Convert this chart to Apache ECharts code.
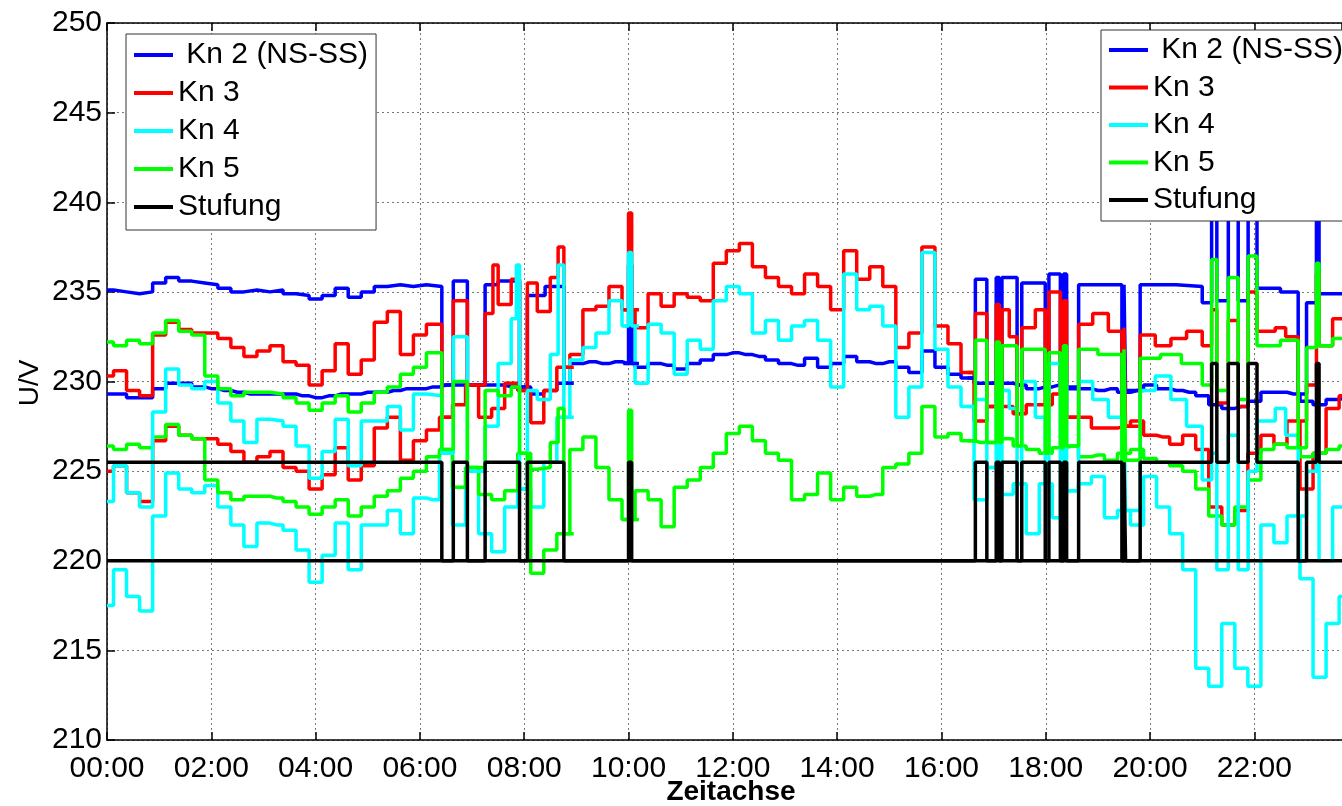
<!DOCTYPE html>
<html>
<head>
<meta charset="utf-8">
<script src="https://cdn.jsdelivr.net/npm/echarts@6/dist/echarts.min.js"></script>
<style>html,body{margin:0;padding:0;background:#fff}#c{width:1342px;height:806px}</style>
</head>
<body>
<div id="c"></div>
<script>
// ---------- data ----------
// sampling grid of scenario A, hours (0 .. 23.75 every 15 min)
const hours = Array.from({length: 96}, (_, i) => i * 0.25);
const xTicks = ['00:00','02:00','04:00','06:00','08:00','10:00','12:00','14:00','16:00','18:00','20:00','22:00'];
const yTicks = [210, 215, 220, 225, 230, 235, 240, 245, 250];
const names = ['Kn 2 (NS-SS)', 'Kn 3', 'Kn 4', 'Kn 5', 'Stufung'];

// scenario A (lower set, Stufung fixed)
const kn2A = [229.3,229.3,229.1,229.1,229.6,229.9,229.9,229.7,229.6,229.5,229.4,229.3,229.3,229.3,229.3,229.2,229.1,229.2,229.3,229.3,229.4,229.4,229.5,229.6,229.6,
  229.7,229.8,229.8,229.8,229.8,229.8,229.7,229.7,229.3,229.5,229.9,231.0,231.1,231.0,231.1,231.0,230.8,231.0,230.9,230.7,231.0,231.2,231.5,231.6,
  231.5,231.4,231.2,231.0,230.9,231.3,230.8,231.0,231.4,231.1,231.0,231.1,230.8,230.5,231.7,230.8,230.4,230.2,229.9,229.9,229.9,229.8,229.6,229.7,
  229.8,229.6,229.6,229.5,229.6,229.4,229.5,229.8,229.6,229.5,229.4,229.2,228.7,228.5,228.6,228.9,229.4,229.4,229.3,228.9,228.7,229.0,229.1];
const kn3A = [225.0,225.3,223.8,223.3,226.7,227.5,227.0,226.8,226.8,226.5,226.1,225.5,225.8,226.1,225.2,225.0,224.0,224.8,226.3,224.5,225.3,227.4,228.0,225.6,226.7,
  227.3,228.0,228.7,229.8,228.0,228.5,229.9,229.5,227.7,229.5,230.8,231.5,234.0,234.2,235.3,234.0,233.0,234.9,234.2,234.9,234.7,234.5,236.6,237.3,
  237.7,236.4,235.8,235.3,234.9,236.0,235.3,234.0,237.3,235.7,236.4,235.3,231.9,232.7,237.5,233.1,232.1,230.5,227.8,228.6,228.6,228.2,228.7,228.7,
  229.3,228.0,228.0,227.4,227.4,227.5,227.8,227.0,226.9,226.5,227.0,226.2,223.0,222.0,222.8,226.0,227.0,226.5,227.8,224.0,226.0,228.5,229.2];
const kn4A = [217.5,219.5,218.0,217.2,222.5,224.9,224.0,223.8,224.2,223.0,222.0,220.8,222.1,222.0,221.7,220.6,218.8,220.3,222.1,219.5,222.0,222.0,222.8,221.5,223.5,
  223.4,226.0,222.0,225.0,221.5,220.5,223.0,224.0,223.0,225.5,228.0,231.2,231.9,232.7,234.5,233.1,229.9,233.2,232.7,230.4,232.3,231.8,234.5,235.3,
  234.9,232.7,233.4,232.3,233.1,233.4,232.3,229.7,236.0,234.0,234.2,233.1,228.0,229.7,237.2,231.8,229.7,228.6,223.4,225.2,223.7,224.3,221.5,224.3,
  222.4,223.9,224.3,224.7,222.4,222.8,222.0,224.7,223.0,221.5,219.5,214.0,213.0,216.5,214.0,213.0,222.0,221.0,222.5,219.0,213.5,216.5,218.0];
const kn5A = [226.4,226.2,226.5,226.3,226.9,227.6,227.0,226.8,224.5,223.8,223.4,223.6,223.6,223.5,223.3,223.0,222.6,223.0,223.4,222.5,223.0,223.6,223.9,224.6,225.0,
  225.8,226.2,224.1,225.2,223.7,223.4,223.9,226.0,219.3,220.6,221.5,226.2,226.9,225.2,223.4,222.3,223.9,223.4,221.9,224.1,224.5,225.2,226.0,227.1,
  227.5,226.7,226.0,225.6,223.4,223.7,224.9,223.4,224.1,223.6,223.7,225.2,225.4,226.0,228.6,226.9,227.1,226.7,226.6,226.6,226.8,226.4,226.2,226.0,
  226.3,226.4,225.8,225.9,225.6,226.0,226.2,225.7,225.5,225.3,225.0,224.0,222.5,222.0,223.0,224.5,226.2,226.5,226.3,225.8,226.0,226.2,226.4];
const stufA = [[0, 220], [23.7, 220]];

// scenario B (switched set): [start hour, value held until next point]; null = gap (same as A)
const kn2B = [[0,235.1],[0.125,235.0],[0.375,234.9],[0.625,235.0],[0.875,235.5],[1.125,235.8],[1.375,235.6],[1.625,235.5],[1.875,235.4],[2.125,235.2],[2.375,235.0],[2.625,235.1],[2.875,235.0],[3.125,235.1],[3.375,234.9],[3.625,234.8],[3.875,234.6],[4.125,234.8],[4.375,235.2],[4.625,234.7],[4.875,235.0],[5.125,235.3],[5.375,235.4],[5.625,235.3],[5.875,235.4],[6.125,235.3],
  [6.42,229.8],[6.64,235.6],[6.91,229.8],[7.25,235.4],[7.5,235.6],[7.91,229.7],[8.06,234.8],[8.4,235.3],[8.76,229.9],[8.9,229.9],[8.95,null],
  [9.9,231.0],[10.0,236.5],[10.06,231.0],[10.15,231.0],[10.2,null],
  [16.5,230.2],[16.65,235.7],[16.87,229.9],[17.05,235.8],[17.11,229.9],[17.16,235.8],[17.45,229.8],[17.54,235.5],[17.99,229.7],[18.06,236.0],[18.28,229.8],[18.34,236.0],[18.40,229.7],[18.63,235.4],[19.46,229.5],[19.50,235.4],[19.53,229.5],[19.81,235.4],[20.5,235.3],[21.0,234.4],[21.18,239.8],[21.28,234.5],[21.50,239.7],[21.69,234.5],[21.88,240.6],[22.05,235.2],[22.5,235.0],[22.84,229.3],[23.0,234.4],[23.19,240.4],[23.24,234.9],[23.7,234.9]];
const kn3B = [[0,230.3],[0.125,230.6],[0.375,229.5],[0.625,229.2],[0.875,232.6],[1.125,233.3],[1.375,232.9],[1.625,232.7],[1.875,232.7],[2.125,232.4],[2.375,231.9],[2.625,231.4],[2.875,231.7],[3.125,232.0],[3.375,231.1],[3.625,230.9],[3.875,229.8],[4.125,230.6],[4.375,232.1],[4.625,230.4],[4.875,231.2],[5.125,233.3],[5.375,233.9],[5.625,231.5],[5.875,232.6],[6.125,233.2],
  [6.42,228.0],[6.64,234.5],[6.91,229.8],[7.25,233.8],[7.4,236.5],[7.5,234.3],[7.75,235.7],[7.91,229.5],[8.06,235.5],[8.25,233.9],[8.5,235.8],[8.65,237.5],[8.76,230.8],[8.9,230.8],[8.95,null],
  [9.9,234.0],[10.0,239.4],[10.06,234.0],[10.15,234.0],[10.2,null],
  [16.5,230.5],[16.65,233.8],[16.87,228.6],[17.05,234.3],[17.11,228.6],[17.16,234.0],[17.3,232.5],[17.45,228.2],[17.54,233.0],[17.8,234.0],[17.99,228.7],[18.06,235.0],[18.28,229.3],[18.34,234.5],[18.40,228.0],[18.63,233.2],[18.9,233.8],[19.2,232.8],[19.46,227.5],[19.50,233.0],[19.53,227.5],[19.81,232.6],[20.1,232.0],[20.4,232.4],[20.7,232.8],[21.0,232.0],[21.18,234.0],[21.28,228.8],[21.50,233.4],[21.69,228.6],[21.88,235.0],[22.05,232.8],[22.4,233.0],[22.6,232.5],[22.84,227.8],[23.0,229.8],[23.19,236.0],[23.24,232.0],[23.5,233.5],[23.7,233.5]];
const kn4B = [[0,223.3],[0.125,225.3],[0.375,223.8],[0.625,223.0],[0.875,228.3],[1.125,230.7],[1.375,229.8],[1.625,229.6],[1.875,230.0],[2.125,228.8],[2.375,227.8],[2.625,226.6],[2.875,227.9],[3.125,227.8],[3.375,227.5],[3.625,226.4],[3.875,224.6],[4.125,226.1],[4.375,227.9],[4.625,225.3],[4.875,227.8],[5.125,227.8],[5.375,228.6],[5.625,227.3],[5.875,229.3],[6.125,229.2],
  [6.42,226.0],[6.64,232.5],[6.91,225.0],[7.25,227.5],[7.5,231.0],[7.75,233.5],[7.85,236.5],[7.91,224.0],[8.06,229.5],[8.25,229.0],[8.5,231.5],[8.65,236.5],[8.76,228.0],[8.9,228.0],[8.95,null],
  [9.9,233.1],[10.0,237.2],[10.06,233.1],[10.15,233.1],[10.2,null],
  [16.5,228.6],[16.65,229.0],[16.87,225.2],[17.05,229.5],[17.11,223.7],[17.16,229.5],[17.3,228.5],[17.45,224.3],[17.54,230.0],[17.8,228.0],[17.99,224.3],[18.06,231.0],[18.28,222.4],[18.34,230.0],[18.40,223.9],[18.63,230.0],[18.9,229.0],[19.2,228.0],[19.46,222.8],[19.50,228.5],[19.53,222.8],[19.81,229.5],[20.1,230.3],[20.4,229.0],[20.7,227.5],[21.0,224.5],[21.18,226.0],[21.28,219.5],[21.50,227.0],[21.69,219.5],[21.88,225.0],[22.05,227.8],[22.4,228.5],[22.6,227.0],[22.84,222.5],[23.0,225.0],[23.19,226.0],[23.24,220.0],[23.5,223.0],[23.7,223.0]];
const kn5B = [[0,232.2],[0.125,232.0],[0.375,232.3],[0.625,232.1],[0.875,232.7],[1.125,233.4],[1.375,232.8],[1.625,232.6],[1.875,230.3],[2.125,229.6],[2.375,229.2],[2.625,229.4],[2.875,229.4],[3.125,229.3],[3.375,229.1],[3.625,228.8],[3.875,228.4],[4.125,228.8],[4.375,229.2],[4.625,228.3],[4.875,228.8],[5.125,229.4],[5.375,229.7],[5.625,230.4],[5.875,230.8],[6.125,231.6],
  [6.42,226.2],[6.64,230.0],[6.91,225.2],[7.25,229.5],[7.5,229.2],[7.75,229.7],[7.91,226.0],[8.06,225.1],[8.25,225.2],[8.5,226.6],[8.65,228.5],[8.76,221.5],[8.9,221.5],[8.95,null],
  [9.9,222.3],[10.0,228.4],[10.06,222.3],[10.15,222.3],[10.2,null],
  [16.5,226.7],[16.65,232.3],[16.87,226.6],[17.05,232.2],[17.11,226.6],[17.16,232.0],[17.45,226.4],[17.54,231.8],[17.99,226.0],[18.06,231.6],[18.28,226.3],[18.34,232.0],[18.40,226.4],[18.63,231.8],[19.0,231.5],[19.46,225.6],[19.50,231.8],[19.53,225.6],[19.81,231.3],[20.2,231.5],[20.6,231.0],[21.0,229.8],[21.18,236.8],[21.28,229.5],[21.50,235.8],[21.69,229.0],[21.88,237.0],[22.05,232.0],[22.5,232.3],[22.84,226.3],[23.0,231.9],[23.19,236.6],[23.24,232.0],[23.5,232.4],[23.7,232.4]];
const stufB = [[0,225.5],[6.42,220],[6.64,225.5],[6.91,220],[7.25,225.5],[7.91,220],[8.06,225.5],[8.76,220],[10.0,225.5],[10.06,220],[16.65,225.5],[16.87,220],[17.05,225.5],[17.11,220],[17.16,225.5],[17.45,220],[17.54,225.5],[17.99,220],[18.06,225.5],[18.28,220],[18.34,225.5],[18.40,220],[18.63,225.5],[19.46,220],[19.50,225.5],[19.53,220],[19.81,225.5],[21.18,231],[21.28,225.5],[21.50,231],[21.69,225.5],[21.88,231],[22.05,225.5],[22.84,220],[23.0,225.5],[23.19,231],[23.24,225.5],[23.7,225.5]];

// ---------- chart ----------
const colors = ['#0000ff', '#ff0000', '#00ffff', '#00ff00', '#000000'];
const FONT = '"Liberation Sans", Arial, Helvetica, sans-serif';
const chart = echarts.init(document.getElementById('c'), null, {renderer: 'canvas'});

function lineSeries(name, color, data, step) {
  return {
    name: name, type: 'line', data: data, step: step,
    showSymbol: false, symbol: 'none', connectNulls: false,
    lineStyle: {color: color, width: 3.5}, itemStyle: {color: color},
    emphasis: {disabled: true}, animation: false, clip: true
  };
}
const pair = arr => hours.map((h, i) => [h, arr[i]]);

const series = [
  lineSeries(names[0], colors[0], pair(kn2A), 'middle'),
  lineSeries(names[1], colors[1], pair(kn3A), 'middle'),
  lineSeries(names[2], colors[2], pair(kn4A), 'middle'),
  lineSeries(names[3], colors[3], pair(kn5A), 'middle'),
  lineSeries(names[0], colors[0], kn2B, 'end'),
  lineSeries(names[1], colors[1], kn3B, 'end'),
  lineSeries(names[2], colors[2], kn4B, 'end'),
  lineSeries(names[3], colors[3], kn5B, 'end'),
  lineSeries(names[4], colors[4], stufA, 'end'),
  lineSeries(names[4], colors[4], stufB, 'end')
];

const legendBase = {
  orient: 'vertical', data: names, icon: 'rect', itemWidth: 39, itemHeight: 4,
  backgroundColor: '#ffffff', borderColor: '#333', borderWidth: 1, borderRadius: 0,
  selectedMode: false, align: 'left',
  textStyle: {fontSize: 30, fontFamily: FONT, color: '#000', lineHeight: 30},
  formatter: n => n === names[0] ? ' ' + n : n
};

const option = {
  backgroundColor: '#ffffff',
  animation: false,
  grid: {left: 107, right: 0, top: 23, bottom: 66, containLabel: false},
  xAxis: [{
    type: 'value', min: 0, max: 23.68, interval: 2, position: 'bottom',
    axisLine: {show: true, lineStyle: {color: '#000', width: 1.5}},
    axisTick: {show: true, inside: true, length: 8, lineStyle: {color: '#000', width: 1.5}},
    axisLabel: {show: true, margin: 14, fontSize: 30, fontFamily: FONT, color: '#000', showMaxLabel: false,
      formatter: v => xTicks[Math.round(v / 2)] || ''},
    splitLine: {show: true, lineStyle: {color: '#777', type: [2, 3], width: 1}}
  }, {
    type: 'value', min: 0, max: 23.68, interval: 2, position: 'top',
    axisLine: {show: true, lineStyle: {color: '#000', width: 1.5}},
    axisTick: {show: true, inside: true, length: 8, lineStyle: {color: '#000', width: 1.5}},
    axisLabel: {show: false}, splitLine: {show: false}
  }],
  yAxis: {
    type: 'value', min: yTicks[0], max: yTicks[yTicks.length - 1], interval: 5,
    axisLine: {show: true, lineStyle: {color: '#000', width: 1.5}},
    axisTick: {show: true, inside: true, length: 8, lineStyle: {color: '#000', width: 1.5}},
    axisLabel: {margin: 5, fontSize: 30, fontFamily: FONT, color: '#000'},
    splitLine: {show: true, lineStyle: {color: '#777', type: [2, 3], width: 1}}
  },
  legend: [
    Object.assign({}, legendBase, {left: 126, top: 34, padding: [6, 8, 8, 8], itemGap: 8}),
    Object.assign({}, legendBase, {left: 1101, top: 30, padding: [5, 8, 6, 8], itemGap: 7.5})
  ],
  graphic: [
    {type: 'text', x: 731, y: 792, style: {text: 'Zeitachse', align: 'center', verticalAlign: 'middle', font: 'bold 28px ' + FONT, fill: '#000'}},
    {type: 'text', x: 30, y: 383, rotation: Math.PI / 2, style: {text: 'U/V', x: 0, y: 0, align: 'center', verticalAlign: 'middle',
      font: '28px ' + FONT, fill: '#000'}}
  ],
  series: series
};
chart.setOption(option);
</script>
</body>
</html>
